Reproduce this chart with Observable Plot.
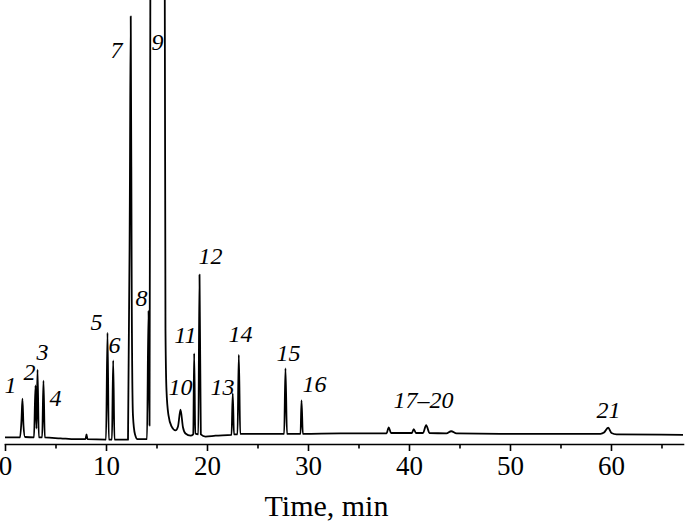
<!DOCTYPE html>
<html><head><meta charset="utf-8">
<script src="https://cdn.jsdelivr.net/npm/d3@7"></script>
<script src="https://cdn.jsdelivr.net/npm/@observablehq/plot@0.6"></script>
<style>body{margin:0;background:#fff;}</style>
</head><body><div id="chart"></div>
<script>
// Chromatogram trace: retention time (min) and detector response (arb. units)
const time = [0.00, 1.44, 1.58, 1.68, 1.78, 1.93, 2.82, 2.97, 3.07, 3.17, 3.30, 3.63, 3.76, 3.89,
  5.45, 6.93, 7.92, 8.02, 8.12, 9.95, 10.10, 10.23, 10.54, 10.66, 10.79,
  12.13, 12.31, 12.40, 12.50, 12.62, 12.82, 13.07, 14.01, 14.16, 14.26, 14.34, 14.95, 15.77,
  15.84, 15.94, 16.14, 16.44, 16.83, 17.08, 17.33, 17.57, 17.82, 18.32, 18.59, 18.68, 18.79,
  19.09, 19.21, 19.34, 19.80, 20.79, 22.38, 22.50, 22.62, 22.97, 23.10, 23.24, 25.25,
  27.59, 27.72, 27.87, 29.21, 29.31, 29.44, 33.17, 37.72, 37.95, 38.17, 40.24, 40.42, 40.64,
  41.34, 41.65, 41.98, 43.66, 44.13, 44.65, 49.01, 58.91, 59.26, 59.67, 60.00, 60.50, 67.13];
const response = [0.7, 0.7, 4.5, 9.5, 3.4, 0.8, 0.7, 12.5, 2.7, 16.1, 0.7, 0.7, 13.6, 0.7,
  0.5, 0.3, 0.3, 1.4, 0.3, 0.2, 24.5, 0.2, 0.2, 18.2, 0.2,
  0.2, 54.5, 96.4, 31.8, 5.7, 1.4, 0.3, 0.3, 29.5, 3.4, 101.1, 259, 101.1,
  25.0, 11.4, 5.7, 3.2, 2.3, 3.2, 7.0, 3.0, 1.6, 1.1, 1.4, 19.8, 1.6,
  1.4, 37.7, 1.4, 0.9, 1.1, 1.3, 10.7, 1.4, 1.4, 19.5, 1.5, 1.5,
  1.5, 16.4, 1.5, 1.5, 9.1, 1.5, 1.6, 1.6, 3.0, 1.7, 1.7, 2.6, 1.7,
  1.7, 3.5, 1.7, 1.6, 2.1, 1.6, 1.5, 1.5, 1.8, 2.9, 1.7, 1.4, 1.3];

// Peak numbers and where they are written
const peakLabels = ["1", "2", "3", "4", "5", "6", "7", "8", "9", "10", "11", "12", "13", "14", "15", "16", "17\u201320", "21"];
const labelTime = [0.50, 2.38, 3.66, 4.95, 9.01, 10.79, 10.99, 13.47, 15.05, 17.33, 17.82, 20.30, 21.49, 23.27, 28.02, 30.59, 41.39, 59.70];
const labelResponse = [12.5, 15.5, 20.0, 9.5, 26.8, 21.6, 88.6, 32.3, 90.5, 12.0, 23.9, 41.8, 12.0, 24.1, 19.8, 12.7, 9.1, 6.8];

const majorTicks = [0, 10, 20, 30, 40, 50, 60];
const minorTicks = [5, 15, 25, 35, 45, 55, 65];
const xLabel = "Time, min";

const trace = time.map((t, i) => ({t, r: response[i]}));

const chart = Plot.plot({
  width: 685, height: 522,
  marginTop: 0, marginBottom: 78, marginLeft: 5, marginRight: 2,
  style: {fontFamily: "'Liberation Serif', 'Times New Roman', serif", color: "#000", background: "#fff"},
  x: {domain: [0, 67.13]},
  y: {domain: [-0.909, 100], axis: null},
  marks: [
    Plot.frame({anchor: "bottom", strokeWidth: 1.6}),
    Plot.axisX({ticks: majorTicks, tickSize: 7, tickPadding: 4, fontSize: 27, label: null, strokeWidth: 1.6}),
    Plot.axisX({ticks: minorTicks, tickSize: 4.5, tickFormat: () => "", label: null, strokeWidth: 1.6}),
    Plot.line(trace, {x: "t", y: "r", curve: "monotone-x", stroke: "#000", strokeWidth: 1.8, clip: true}),
    Plot.text(peakLabels, {x: labelTime, y: labelResponse, text: d => d, fontStyle: "italic", fontSize: 24}),
    Plot.text([xLabel], {text: d => d, frameAnchor: "bottom", dx: -18, dy: 71, lineAnchor: "bottom", fontSize: 30})
  ]
});
document.getElementById("chart").appendChild(chart);
</script>
</body></html>
